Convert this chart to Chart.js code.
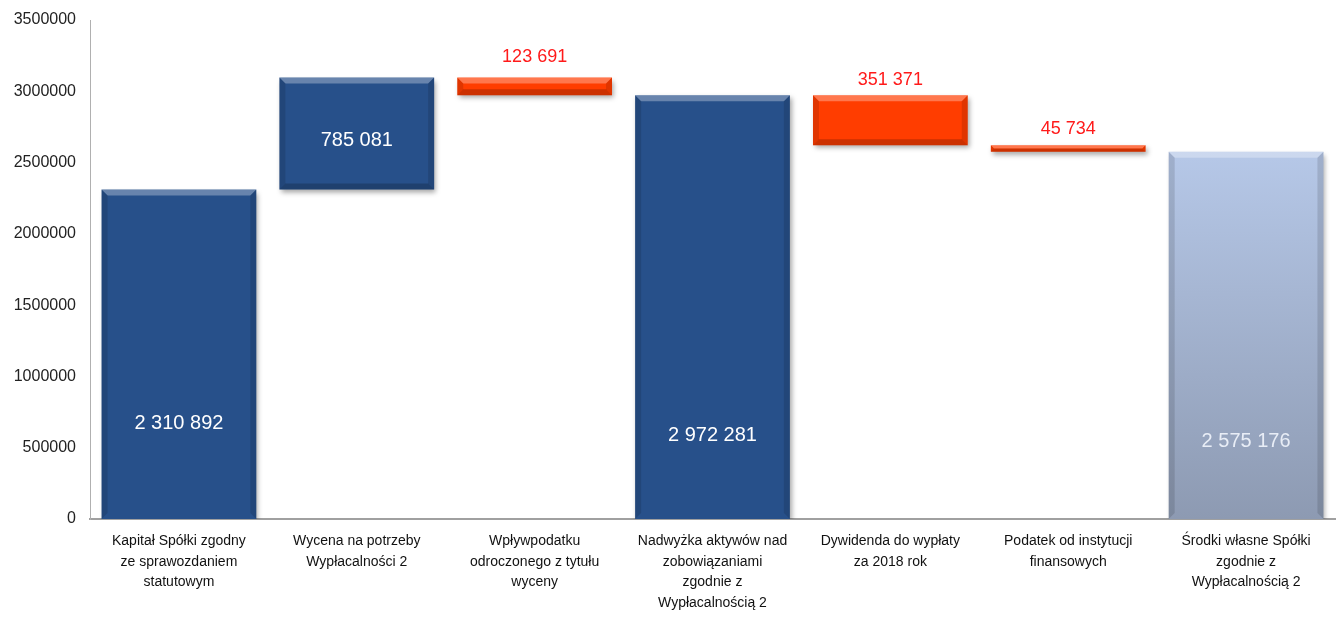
<!DOCTYPE html>
<html>
<head>
<meta charset="utf-8">
<script src="https://cdn.jsdelivr.net/npm/chart.js@4.4.1/dist/chart.umd.min.js"></script>
<style>
  html, body { margin: 0; padding: 0; background: #fff; }
  #wrap { width: 1341px; height: 617px; }
</style>
</head>
<body>
<div id="wrap"><canvas id="myChart"></canvas></div>
<script>
// categories (multi-line)
let categories = [
  ["Kapitał Spółki zgodny", "ze sprawozdaniem", "statutowym"],
  ["Wycena na potrzeby", "Wypłacalności 2"],
  ["Wpływpodatku", "odroczonego z tytułu", "wyceny"],
  ["Nadwyżka aktywów nad", "zobowiązaniami", "zgodnie z", "Wypłacalnością 2"],
  ["Dywidenda do wypłaty", "za 2018 rok"],
  ["Podatek od instytucji", "finansowych"],
  ["Środki własne Spółki", "zgodnie z", "Wypłacalnością 2"],
];
// waterfall values: "total" bars start at 0, "up" adds, "down" subtracts
let amounts = [2310892, 785081, 123691, 2972281, 351371, 45734, 2575176];
let kinds = ["total", "up", "down", "total", "down", "down", "total"];
let yTicks = [0, 500000, 1000000, 1500000, 2000000, 2500000, 3000000, 3500000];

// build floating ranges
let ranges = [];
let running = 0;
for (let i = 0; i < amounts.length; i++) {
  if (kinds[i] == "total") {
    running = amounts[i];
    ranges.push([0, amounts[i]]);
  } else if (kinds[i] == "up") {
    ranges.push([running, running + amounts[i]]);
    running += amounts[i];
  } else {
    ranges.push([running - amounts[i], running]);
    running -= amounts[i];
  }
}

function fmt(n) {
  return String(n).replace(/\B(?=(\d{3})+(?!\d))/g, " ");
}

function barColor(ctx) {
  let i = ctx.dataIndex;
  if (kinds[i] == "down") return "#ff3d00";
  if (i == amounts.length - 1) {
    let area = ctx.chart.chartArea;
    if (!area) return "#a9bad8";
    let g = ctx.chart.ctx.createLinearGradient(0, area.top + 130, 0, area.bottom);
    g.addColorStop(0, "#b6c8e8");
    g.addColorStop(1, "#8d9ab2");
    return g;
  }
  return "#27508a";
}

// shadow + bevel for the bars
const bevelPlugin = {
  id: "bevel",
  beforeDatasetsDraw(chart) {
    let c = chart.ctx;
    c.save();
    c.shadowColor = "rgba(0,0,0,0.35)";
    c.shadowBlur = 5;
    c.shadowOffsetX = 2;
    c.shadowOffsetY = 3;
  },
  afterDatasetsDraw(chart) {
    let c = chart.ctx;
    c.restore();
    let meta = chart.getDatasetMeta(0);
    meta.data.forEach((bar, i) => {
      let p = bar.getProps(["x", "y", "base", "width"], true);
      let l = p.x - p.width / 2, r = p.x + p.width / 2;
      let t = Math.min(p.y, p.base), b = Math.max(p.y, p.base);
      let d = Math.min(6, (b - t) / 2);
      c.save();
      // top highlight
      c.fillStyle = "rgba(255,255,255,0.3)";
      c.beginPath();
      c.moveTo(l, t); c.lineTo(r, t); c.lineTo(r - d, t + d); c.lineTo(l + d, t + d); c.closePath();
      c.fill();
      // sides darker
      c.fillStyle = "rgba(0,0,0,0.12)";
      c.beginPath();
      c.moveTo(l, t); c.lineTo(l + d, t + d); c.lineTo(l + d, b - d); c.lineTo(l, b); c.closePath();
      c.fill();
      c.beginPath();
      c.moveTo(r, t); c.lineTo(r - d, t + d); c.lineTo(r - d, b - d); c.lineTo(r, b); c.closePath();
      c.fill();
      // bottom darker (only on floating bars)
      if (kinds[i] != "total") {
        c.fillStyle = "rgba(0,0,0,0.2)";
        c.beginPath();
        c.moveTo(l, b); c.lineTo(r, b); c.lineTo(r - d, b - d); c.lineTo(l + d, b - d); c.closePath();
        c.fill();
      }
      c.restore();
    });
  },
};

// value labels
const labelPlugin = {
  id: "valueLabels",
  afterDatasetsDraw(chart, args, opts) {
    let c = chart.ctx;
    let meta = chart.getDatasetMeta(0);
    c.save();
    c.textAlign = "center";
    c.textBaseline = "middle";
    meta.data.forEach((bar, i) => {
      let p = bar.getProps(["x", "y", "base"], true);
      let text = fmt(amounts[i]);
      if (kinds[i] == "down") {
        c.font = "18px 'Liberation Sans', Arial, sans-serif";
        c.fillStyle = "#ff1a1a";
        c.fillText(text, p.x, Math.min(p.y, p.base) - opts.redGap[i]);
      } else if (kinds[i] == "up") {
        c.font = "20px 'Liberation Sans', Arial, sans-serif";
        c.fillStyle = "#ffffff";
        c.fillText(text, p.x, (p.y + p.base) / 2 + 7);
      } else {
        c.font = "20px 'Liberation Sans', Arial, sans-serif";
        c.fillStyle = i == amounts.length - 1 ? "#e8edf6" : "#ffffff";
        c.fillText(text, p.x, p.base - opts.offsets[i]);
      }
    });
    c.restore();
  },
};

const ctx = document.getElementById("myChart");
const myChart = new Chart(ctx, {
  type: "bar",
  data: {
    labels: categories,
    datasets: [
      {
        data: ranges,
        backgroundColor: barColor,
        borderWidth: 0,
        borderSkipped: false,
        categoryPercentage: 1,
        barPercentage: 0.87,
      },
    ],
  },
  options: {
    responsive: true,
    maintainAspectRatio: false,
    animation: false,
    layout: { padding: { top: 20, right: 6, left: 0, bottom: 0 } },
    plugins: {
      legend: { display: false },
      tooltip: { enabled: false },
      valueLabels: { offsets: [96, 0, 0, 84, 0, 0, 78], redGap: [0, 0, 21, 0, 15, 16, 0] },
    },
    scales: {
      x: {
        grid: { display: false },
        border: { display: true, color: "#a0a0a0", width: 2 },
        ticks: {
          color: "#111",
          font: { family: "'Liberation Sans', Arial, sans-serif", size: 14, lineHeight: 1.47 },
          maxRotation: 0,
          autoSkip: false,
          padding: 4,
        },
        afterFit(scale) { scale.height = 98; },
      },
      y: {
        min: 0,
        max: 3500000,
        grid: { display: false },
        border: { display: true, color: "#b0b0b0", width: 1 },
        afterBuildTicks(scale) { scale.ticks = yTicks.map((v) => ({ value: v })); },
        ticks: {
          color: "#222",
          font: { family: "'Liberation Sans', Arial, sans-serif", size: 16 },
          padding: 6,
          callback: (v) => String(v),
        },
        afterFit(scale) { scale.width = 90; },
      },
    },
  },
  plugins: [bevelPlugin, labelPlugin],
});
</script>
</body>
</html>
